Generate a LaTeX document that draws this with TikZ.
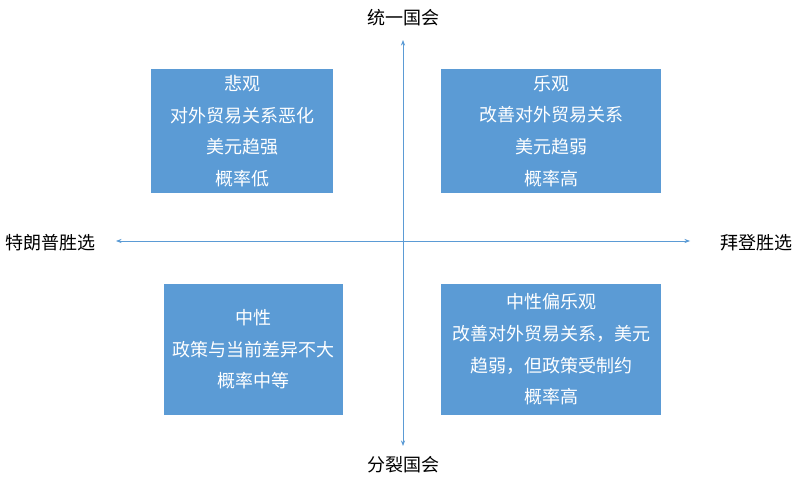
\documentclass[tikz,border=0pt]{standalone}
\usepackage{fontspec}
\setmainfont{Noto Sans CJK SC}
\usetikzlibrary{positioning,arrows.meta}

\begin{document}
\begin{tikzpicture}[x=0.025cm,y=-0.025cm,
  every node/.style={font=\fontsize{12.8}{22.5}\selectfont},
  quad/.style={fill=boxblue,text=white,align=center,inner sep=0pt},
  axis/.style={draw=boxblue,line width=0.5pt,{Stealth[length=4pt]}-{Stealth[length=4pt]}}]
\definecolor{boxblue}{HTML}{5B9BD5}
\useasboundingbox (0,0) rectangle (800,484);
\node (pessimistic)[quad,minimum width=182*0.025cm,minimum height=124*0.025cm] at (242,131)
  {悲观\\对外贸易关系恶化\\美元趋强\\概率低};
\node (optimistic)[quad,minimum width=220*0.025cm,minimum height=124*0.025cm] at (551,131)
  {乐观\\改善对外贸易关系\\美元趋弱\\概率高};
\node (neutral)[quad,minimum width=179*0.025cm,minimum height=131*0.025cm] at (253.5,349.5)
  {中性\\政策与当前差异不大\\概率中等};
\node (leaning)[quad,minimum width=220*0.025cm,minimum height=131*0.025cm] at (551,349.5)
  {中性偏乐观\\改善对外贸易关系，美元\\趋弱，但政策受制约\\概率高};
% axes
\coordinate (top) at (403,40);
\coordinate (bottom) at (403,446);
\coordinate (left) at (116,241);
\coordinate (right) at (690,241);
\draw[axis] (top)--(bottom);
\draw[axis] (left)--(right);
\node (unified) at (403,18) {统一国会};
\node (divided) at (403,465) {分裂国会};
\node (trump) at (50,243) {特朗普胜选};
\node (biden) at (756,243) {拜登胜选};
\end{tikzpicture}
\end{document}
